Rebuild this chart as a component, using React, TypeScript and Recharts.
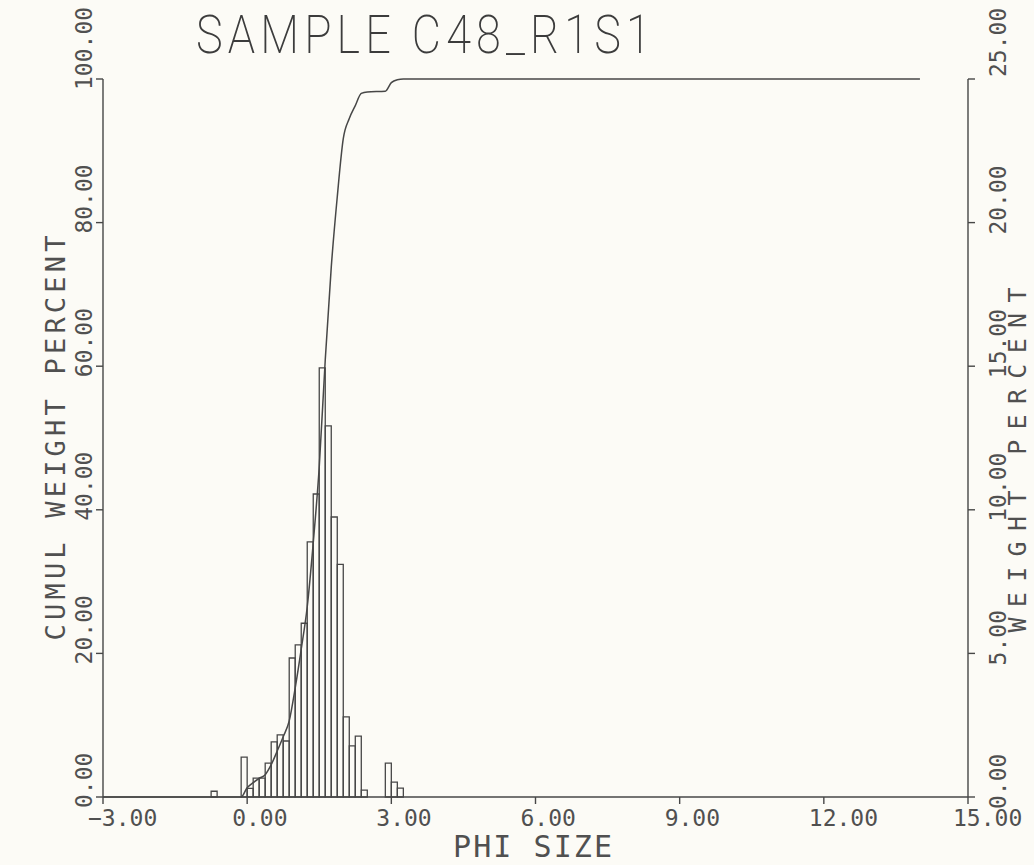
import React from "react";
import { Bar, ComposedChart, Line, XAxis, YAxis } from "recharts";

// histogram bins (phi bin centre, 1/8 phi wide) and weight percent
const binPhi = [
  -0.6875, -0.0625, 0.0625, 0.1875, 0.3125, 0.4375, 0.5625, 0.6875, 0.8125, 0.9375, 1.0625,
  1.1875, 1.3125, 1.4375, 1.5625, 1.6875, 1.8125, 1.9375, 2.0625, 2.1875, 2.3125, 2.4375,
  2.9375, 3.0625, 3.1875,
];
const weightPct = [
  0.2, 1.39, 0.3, 0.66, 0.66, 1.18, 1.92, 2.16, 1.95, 4.84, 5.3, 6.05, 8.88, 10.55, 14.94, 12.92,
  9.75, 8.1, 2.79, 1.78, 2.12, 0.24, 1.18, 0.52, 0.31,
];

// cumulative curve, read at bin edges
const edgePhi = [
  -3, -0.125, 0, 0.125, 0.25, 0.375, 0.5, 0.625, 0.75, 0.875, 1.0, 1.125, 1.25, 1.375, 1.5, 1.625,
  1.75, 1.875, 2.0, 2.125, 2.25, 2.375, 2.5, 2.875, 3.0, 3.125, 3.25, 14.0,
];
const cumulPct = [
  0, 0, 1.3, 2.0, 2.6, 3.1, 4.5, 6.4, 8.4, 10.6, 15.2, 20.6, 26.5, 35.4, 46.0, 60.9, 73.8, 83.6,
  91.7, 94.5, 96.3, 98.0, 98.2, 98.3, 99.5, 99.9, 100, 100,
];

const phiTicks = [-3, 0, 3, 6, 9, 12, 15];
const cumulTicks = [0, 20, 40, 60, 80, 100];
const weightTicks = [0, 5, 10, 15, 20, 25];

const bins = binPhi.map((phi, i) => ({ phi, weight: weightPct[i] }));
const cumul = edgePhi.map((phi, i) => ({ phi, cumul: cumulPct[i] }));

const INK = "#474747";
const TXT = "#505050";
const MONO = "'DejaVu Sans Mono', monospace";

const fmt = (v: number) => (v < 0 ? "\u2212" + Math.abs(v).toFixed(2) : v.toFixed(2));

function PhiTick({ x, y, payload }: any) {
  return (
    <text x={x - 15} y={y + 20} fontFamily={MONO} fontSize={23} fill={TXT} textAnchor="start">
      {fmt(payload.value)}
    </text>
  );
}

function CumulTick({ x, y, payload }: any) {
  const bx = x - 2;
  const by = y + 11;
  return (
    <text
      x={bx}
      y={by}
      transform={`rotate(-90 ${bx} ${by})`}
      fontFamily={MONO}
      fontSize={23}
      fill={TXT}
      textAnchor="start"
    >
      {fmt(payload.value)}
    </text>
  );
}

function WeightTick({ x, y, payload }: any) {
  const bx = x + 29;
  const by = payload.value === 25 ? y - 2 : y + 12;
  return (
    <text
      x={bx}
      y={by}
      transform={`rotate(-90 ${bx} ${by})`}
      fontFamily={MONO}
      fontSize={23}
      fill={TXT}
      textAnchor="start"
    >
      {fmt(payload.value)}
    </text>
  );
}

export default function App() {
  return (
    <div
      style={{
        position: "absolute",
        left: 0,
        top: 0,
        width: 1034,
        height: 865,
        background: "#fcfbf6",
        overflow: "hidden",
      }}
    >
      <ComposedChart
        width={1034}
        height={865}
        data={bins}
        margin={{ top: 79, right: 0, bottom: 0, left: 0 }}
        barCategoryGap={0}
        barGap={0}
      >
        <XAxis
          xAxisId="phi"
          dataKey="phi"
          type="number"
          domain={[-3, 15]}
          ticks={phiTicks}
          height={68}
          tickSize={7}
          tick={PhiTick}
          stroke={INK}
          axisLine={{ stroke: INK, strokeWidth: 1.4 }}
          tickLine={{ stroke: INK, strokeWidth: 1.4 }}
          interval={0}
        />
        <XAxis xAxisId="cumx" dataKey="phi" type="number" domain={[-3, 15]} height={0} hide />
        <YAxis
          yAxisId="cum"
          orientation="left"
          width={103}
          domain={[0, 100]}
          ticks={cumulTicks}
          tickSize={7}
          tick={CumulTick}
          axisLine={{ stroke: INK, strokeWidth: 1.4 }}
          tickLine={{ stroke: INK, strokeWidth: 1.4 }}
          interval={0}
        />
        <YAxis
          yAxisId="wt"
          orientation="right"
          width={66}
          domain={[0, 25]}
          ticks={weightTicks}
          tickSize={7}
          tick={WeightTick}
          axisLine={{ stroke: INK, strokeWidth: 1.4 }}
          tickLine={{ stroke: INK, strokeWidth: 1.4 }}
          interval={0}
        />
        <Bar
          xAxisId="phi"
          yAxisId="wt"
          dataKey="weight"
          fill="none"
          stroke={INK}
          strokeWidth={1.3}
          isAnimationActive={false}
        />
        <Line
          data={cumul}
          xAxisId="cumx"
          yAxisId="cum"
          dataKey="cumul"
          type="monotone"
          dot={false}
          stroke={INK}
          strokeWidth={1.5}
          isAnimationActive={false}
        />
        <text
          transform="translate(196 53) scale(0.85 1)"
          x={0}
          y={0}
          fontFamily="Roboto, sans-serif"
          fontWeight={200}
          fontSize={53}
          fill="#3c3c3c"
          textLength={535}
          lengthAdjust="spacing"
        >
          SAMPLE C48_R1S1
        </text>
        <text
          x={453}
          y={857}
          fontFamily={MONO}
          fontSize={30}
          fill={TXT}
          textLength={159}
          lengthAdjust="spacing"
        >
          PHI SIZE
        </text>
        <text
          x={65}
          y={438}
          transform="rotate(-90 65 438)"
          fontFamily={MONO}
          fontSize={27}
          fill={TXT}
          textAnchor="middle"
          textLength={405}
          lengthAdjust="spacing"
        >
          CUMUL WEIGHT PERCENT
        </text>
        <text
          x={1026}
          y={460}
          transform="rotate(-90 1026 460)"
          fontFamily={MONO}
          fontSize={25}
          fill={TXT}
          textAnchor="middle"
          textLength={345}
          lengthAdjust="spacing"
        >
          WEIGHT PERCENT
        </text>
      </ComposedChart>
    </div>
  );
}
